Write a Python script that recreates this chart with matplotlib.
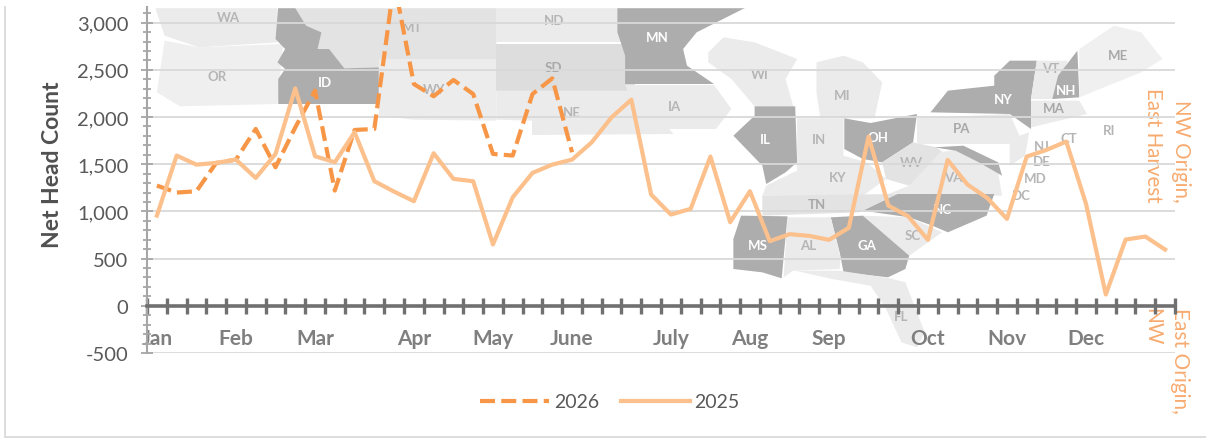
#%%

import matplotlib
matplotlib.use('Agg')
import matplotlib.pyplot as plt
from matplotlib.patches import Polygon
from matplotlib.ticker import MultipleLocator

W, H = 1206, 439

plt.rcParams['font.family'] = ['Lato', 'DejaVu Sans']

# weekly values, 52 categories
y2025 = [956, 1592, 1496, 1514, 1549, 1355, 1609, 2304, 1585, 1521, 1839, 1320, 1210, 1108,
         1616, 1345, 1320, 650, 1150, 1408, 1496, 1549, 1733, 1997, 2184, 1179, 967, 1027,
         1581, 886, 1214, 685, 759, 741, 699, 826, 1793, 1062, 949, 699, 1546, 1285, 1143,
         921, 1581, 1652, 1740, 1080, 120, 702, 734, 596]
y2026 = [1274, 1200, 1214, 1514, 1549, 1874, 1468, 1890, 2280, 1221, 1863, 1874, 3430, 2350,
         2220, 2393, 2244, 1609, 1592, 2244, 2410, 1627]
months = ['Jan', 'Feb', 'Mar', 'Apr', 'May', 'June', 'July', 'Aug', 'Sep', 'Oct', 'Nov', 'Dec']
month_pos = [0, 4, 8, 13, 17, 21, 26, 30, 34, 39, 43, 47]
yticks = [-500, 0, 500, 1000, 1500, 2000, 2500, 3000]

DARK, LIGHT, MID = '#adadad', '#ebebeb', '#e3e3e3'


# the two reference crops have their own scale, go back to image pixels
def a(pts):
    return [(x / 2.613, y / 3) for x, y in pts]


def b(pts):
    return [(600 + x / 2.587, y / 3) for x, y in pts]


states = [
    (a([(405, 24), (725, 24), (725, 130), (520, 145), (430, 110)]), LIGHT),
    (a([(430, 125), (520, 145), (740, 135), (725, 315), (470, 322), (410, 280)]), '#efefef'),
    (a([(770, 24), (1297, 24), (1297, 180), (1000, 180), (990, 205), (900, 208), (860, 150), (830, 150), (840, 100), (800, 80)]), MID),
    (a([(727, 24), (770, 24), (800, 80), (840, 100), (830, 150), (860, 150), (900, 208), (990, 205), (990, 315), (727, 315), (727, 240), (745, 210), (725, 190), (745, 150), (720, 120)]), DARK),
    (a([(990, 180), (1297, 180), (1297, 365), (1080, 362), (990, 350)]), '#ececec'),
    (a([(1297, 24), (1640, 24), (1640, 130), (1297, 130)]), LIGHT),
    (a([(1297, 135), (1660, 135), (1660, 275), (1297, 275)]), '#dddddd'),
    (a([(1297, 275), (1660, 275), (1760, 405), (1390, 408), (1390, 365), (1297, 362)]), LIGHT),
    (b([(45, 24), (380, 24), (250, 100), (215, 150), (225, 200), (295, 255), (65, 255), (65, 170), (45, 100)]), DARK),
    (b([(65, 258), (295, 258), (340, 330), (300, 390), (110, 390), (80, 300)]), LIGHT),
    (b([(280, 160), (320, 115), (400, 130), (510, 180), (480, 240), (500, 322), (400, 322), (340, 240), (280, 190)]), LIGHT),
    (b([(560, 190), (630, 170), (680, 190), (730, 250), (710, 358), (570, 358), (560, 280)]), LIGHT),
    (b([(400, 322), (505, 322), (510, 490), (480, 520), (430, 555), (420, 500), (345, 410), (400, 350)]), DARK),
    (b([(510, 358), (630, 358), (630, 470), (510, 520)]), LIGHT),
    (b([(632, 358), (700, 372), (820, 345), (810, 430), (730, 490), (680, 480), (632, 450)]), DARK),
    (b([(430, 560), (500, 520), (630, 470), (690, 490), (740, 540), (680, 590), (420, 590)]), LIGHT),
    (b([(730, 490), (810, 430), (870, 445), (900, 470), (800, 560), (740, 540)]), MID),
    (b([(670, 620), (800, 560), (880, 460), (930, 450), (1030, 520), (1040, 590), (770, 590)]), LIGHT),
    (b([(420, 590), (770, 585), (670, 640), (420, 650)]), MID),
    (b([(770, 585), (1020, 585), (1000, 650), (900, 700), (860, 680), (800, 655), (680, 635)]), DARK),
    (b([(680, 650), (800, 655), (885, 700), (800, 770)]), LIGHT),
    (b([(597, 655), (680, 650), (800, 770), (790, 810), (745, 835), (630, 820), (620, 760)]), DARK),
    (b([(485, 655), (597, 655), (622, 775), (620, 810), (500, 815), (475, 835)]), LIGHT),
    (b([(365, 650), (485, 652), (470, 838), (420, 820), (345, 810), (345, 720)]), DARK),
    (b([(505, 815), (620, 815), (750, 838), (790, 850), (840, 1000), (820, 1045), (780, 1030), (740, 930), (700, 860), (600, 840)]), LIGHT),
    (b([(820, 358), (1060, 345), (1085, 410), (1060, 435), (820, 435)]), LIGHT),
    (b([(865, 445), (940, 440), (1030, 490), (1040, 530), (980, 490), (920, 455)]), DARK),
    (b([(855, 340), (900, 275), (1020, 260), (1020, 230), (1060, 185), (1130, 185), (1115, 300), (1115, 390), (1060, 345)]), DARK),
    (b([(1130, 185), (1210, 185), (1180, 300), (1115, 300)]), LIGHT),
    (b([(1235, 155), (1240, 295), (1170, 300), (1185, 230)]), DARK),
    (b([(1240, 150), (1330, 80), (1400, 100), (1455, 180), (1400, 220), (1240, 295)]), '#f0f0f0'),
    (b([(1115, 305), (1240, 305), (1260, 345), (1115, 385)]), LIGHT),
    (b([(1060, 435), (1085, 410), (1110, 400), (1100, 470), (1060, 500)]), LIGHT),
]

# name, x, y, colour
names = [p + (c,) for p, c in
         [(a([(596, 55)])[0], '#b5b5b5'), (a([(568, 230)])[0], '#b5b5b5'), (a([(848, 248)])[0], 'white'),
          (a([(1078, 85)])[0], '#b5b5b5'), (a([(1135, 270)])[0], '#b5b5b5'), (a([(1447, 62)])[0], '#b5b5b5'),
          (a([(1447, 205)])[0], '#a8a8a8'), (a([(1495, 340)])[0], '#b5b5b5')]]
names += [p + (c,) for p, c in
          [(b([(148, 115)])[0], 'white'), (b([(192, 322)])[0], '#b5b5b5'), (b([(414, 225)])[0], '#b5b5b5'),
           (b([(627, 288)])[0], '#b5b5b5'), (b([(428, 420)])[0], 'white'), (b([(566, 420)])[0], '#b5b5b5'),
           (b([(720, 415)])[0], 'white'), (b([(805, 488)])[0], '#b5b5b5'), (b([(614, 535)])[0], '#b5b5b5'),
           (b([(915, 535)])[0], '#b5b5b5'), (b([(560, 614)])[0], '#a8a8a8'), (b([(885, 630)])[0], 'white'),
           (b([(810, 708)])[0], '#b5b5b5'), (b([(690, 737)])[0], 'white'), (b([(538, 737)])[0], '#b5b5b5'),
           (b([(408, 737)])[0], 'white'), (b([(778, 952)])[0], '#b5b5b5'), (b([(935, 388)])[0], '#a8a8a8'),
           (b([(1043, 300)])[0], 'white'), (b([(1165, 207)])[0], '#b5b5b5'), (b([(1205, 273)])[0], 'white'),
           (b([(1340, 168)])[0], '#a8a8a8'), (b([(1175, 327)])[0], '#a8a8a8'), (b([(1317, 392)])[0], '#b5b5b5'),
           (b([(1212, 418)])[0], '#b5b5b5'), (b([(1142, 440)])[0], '#b5b5b5'), (b([(1142, 487)])[0], '#b5b5b5'),
           (b([(1125, 538)])[0], '#b5b5b5'), (b([(1090, 587)])[0], '#b5b5b5')]]
labels = ['WA', 'OR', 'ID', 'MT', 'WY', 'ND', 'SD', 'NE', 'MN', 'IA', 'WI', 'MI', 'IL', 'IN', 'OH', 'WV', 'KY',
          'VA', 'TN', 'NC', 'SC', 'GA', 'AL', 'MS', 'FL', 'PA', 'NY', 'VT', 'NH', 'ME', 'MA', 'RI', 'CT', 'NJ',
          'DE', 'MD', 'DC']

fig = plt.figure(figsize=(W / 100, H / 100), dpi=100)

# background layer in image pixels
bg = fig.add_axes([0, 0, 1, 1], zorder=0)
bg.set_xlim(0, W)
bg.set_ylim(H, 0)
bg.axis('off')
for pts, col in states:
    bg.add_patch(Polygon(pts, closed=True, facecolor=col, edgecolor='none'))
for name, (x, y, col) in zip(labels, names):
    bg.text(x, y, name, color=col, fontsize=9.5, fontweight='bold', ha='center', va='center')
bg.fill_between([0, W], 0, 8, color='white', zorder=3)
bg.plot([5, 5], [8, 438], color='#dddddd', lw=1.4, zorder=3)
bg.plot([5, W], [438, 438], color='#dddddd', lw=1.4, zorder=3)

left, right, top, bottom = 147, 1175, 8, 354
ax = fig.add_axes([left / W, 1 - bottom / H, (right - left) / W, (bottom - top) / H], zorder=1)
ax.patch.set_alpha(0)
ax.set_xlim(-0.5, 51.5)
ax.set_ylim(-500, 3166)

ax.grid(axis='y', color='#d9d9d9', lw=1.3)
ax.set_axisbelow(True)
ax.plot(range(len(y2026)), y2026, color='#f79646', lw=3, ls=(0, (3.6, 1.5)), label='2026')
ax.plot(range(len(y2025)), y2025, color='#fcc08c', lw=3, label='2025', solid_joinstyle='round')

for s in ['top', 'right']:
    ax.spines[s].set_visible(False)
ax.spines['left'].set_color('#a6a6a6')
ax.spines['left'].set_linewidth(1.5)
ax.spines['bottom'].set_position(('data', 0))
ax.spines['bottom'].set_color('#707070')
ax.spines['bottom'].set_linewidth(2.6)

ax.set_yticks(yticks)
ax.set_yticklabels([f'{v:,}' for v in yticks], color='#595959', fontsize=14.5)
ax.yaxis.set_minor_locator(MultipleLocator(100))
ax.tick_params(axis='y', which='major', direction='inout', length=9, width=1.3, color='#a6a6a6', pad=9)
ax.tick_params(axis='y', which='minor', direction='inout', length=6, width=1.3, color='#a6a6a6')

ax.set_xticks([i - 0.5 for i in range(53)])
ax.set_xticklabels([])
ax.tick_params(axis='x', which='major', direction='inout', length=11, width=2.4, color='#707070')
ax.set_xticks(month_pos, minor=True)
ax.set_xticklabels(months, minor=True, color='#7f7f7f', fontsize=15, fontweight='bold')
ax.tick_params(axis='x', which='minor', length=0, pad=16)

fig.text(53 / W, 1 - 165 / H, 'Net Head Count', rotation=90, color='#505050', fontsize=16.5,
         fontweight='bold', ha='center', va='center')

# long category labels, drawn sideways
bg.text(1167, 88, 'NW Origin,\nEast Harvest', rotation=270, color='#f7ab70', fontsize=14.8,
        ha='center', va='top', linespacing=1.45, zorder=4, multialignment='right')
bg.text(1166, 308, 'East Origin,\nNW', rotation=270, color='#f7ab70', fontsize=15,
        ha='center', va='top', linespacing=1.45, zorder=4, multialignment='left')

fig.legend(loc='center', bbox_to_anchor=(610 / W, 1 - 403 / H), ncol=2, frameon=False, fontsize=14,
           handlelength=3.55, columnspacing=1.1, handletextpad=0.25, labelcolor='#595959')

fig.savefig('out.png', dpi=100)
